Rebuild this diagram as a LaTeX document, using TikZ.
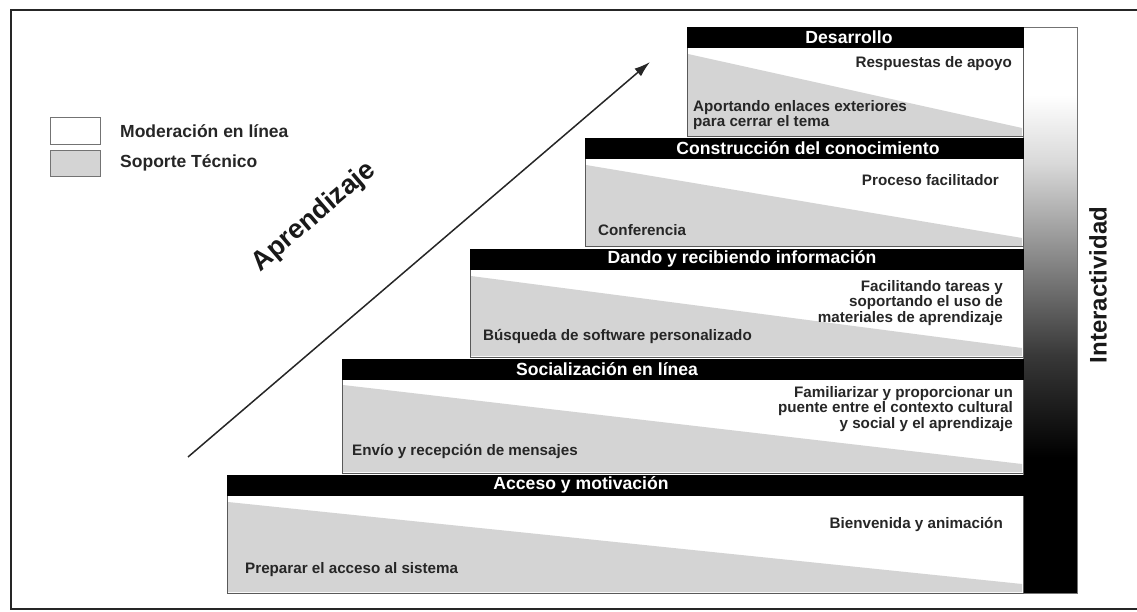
\documentclass[tikz,border=0pt]{standalone}
\usepackage{fontspec}
\setmainfont{Liberation Sans}
\usetikzlibrary{arrows.meta}
\pgfdeclareverticalshading{inter}{100bp}{color(0bp)=(black); color(37bp)=(black); color(46bp)=(black!78); color(55bp)=(black!45); color(63bp)=(black!15); color(69bp)=(white); color(100bp)=(white)}
\tikzset{
  hdr/.style={fill=black, draw=black, minimum height=20, inner sep=0pt, outer sep=0pt, anchor=north west},
  bodybox/.style={fill=white, draw=black!65, line width=1pt, inner sep=0pt, outer sep=0pt, anchor=north west},
  tri/.style={fill=black!17, draw=none},
  htext/.style={text=white, font=\fontsize{17.6}{19}\selectfont\bfseries, inner sep=0pt},
  rtext/.style={text=black!85, font=\fontsize{15.2}{14}\selectfont\bfseries, align=right, anchor=east, inner sep=0pt},
  ltext/.style={text=black!85, font=\fontsize{15.2}{14}\selectfont\bfseries, align=left, anchor=west, inner sep=0pt},
  legbox/.style={draw=black!55, line width=1pt, minimum width=50, minimum height=27, inner sep=0pt, anchor=north west},
  legtext/.style={text=black!85, font=\fontsize{17.5}{19}\selectfont\bfseries, anchor=west, inner sep=0pt},
}
\begin{document}
\begin{tikzpicture}[x=1pt,y=-1pt]
\useasboundingbox (0,0) rectangle (1137,612);
% outer frame
\draw[line width=2pt, black!85] (1140,10) -- (11,10) -- (11,609) -- (1140,609);
% interactivity bar
\node[draw=black!55, line width=0.8pt, shading=inter, minimum width=54, minimum height=566, inner sep=0pt, outer sep=0pt, anchor=north west] (bar) at (1023,27) {};
\node[rotate=90, font=\fontsize{24}{26}\selectfont\bfseries, text=black!90, inner sep=0pt] (inter) at (1098,285) {Interactividad};
% steps: bodies
\node[bodybox, minimum width=796, minimum height=98] (b1) at (227,495) {};
\node[bodybox, minimum width=681, minimum height=95] (b2) at (342,378) {};
\node[bodybox, minimum width=553, minimum height=88] (b3) at (470,269) {};
\node[bodybox, minimum width=438, minimum height=89] (b4) at (585,158) {};
\node[bodybox, minimum width=336, minimum height=90] (b5) at (687,47) {};
\foreach \b in {b1,b2,b3,b4,b5}{
  \fill[tri] ([shift={(1,7)}]\b.north west) -- ([shift={(-1,-9)}]\b.south east) -- ([shift={(-1,-1)}]\b.south east) -- ([shift={(1,-1)}]\b.south west) -- cycle;
  \draw[black!65, line width=1pt] (\b.north west) rectangle (\b.south east);
}
% headers
\node[hdr, minimum width=796] (h1) at (227,475) {};
\node[hdr, minimum width=681] (h2) at (342,359) {};
\node[hdr, minimum width=553] (h3) at (470,249) {};
\node[hdr, minimum width=438] (h4) at (585,138) {};
\node[hdr, minimum width=336] (h5) at (687,27) {};
\node[htext] (t1) at (581,485) {Acceso y motivación};
\node[htext] (t2) at (607,369) {Socialización en línea};
\node[htext] (t3) at (742,259) {Dando y recibiendo información};
\node[htext] (t4) at (808,148) {Construcción del conocimiento};
\node[htext] (t5) at (849,37) {Desarrollo};
% texts
\node[rtext] (r5) at (1012,64) {Respuestas de apoyo};
\node[ltext] (l5) at (693,115) {Aportando enlaces exteriores\\para cerrar el tema};
\node[rtext] (r4) at (999,180) {Proceso facilitador};
\node[ltext] (l4) at (598,230) {Conferencia};
\node[rtext] (r3) at (1003,303) {Facilitando tareas y\\soportando el uso de\\materiales de aprendizaje};
\node[ltext] (l3) at (483,337) {Búsqueda de software personalizado};
\node[rtext] (r2) at (1013,409) {Familiarizar y proporcionar un\\puente entre el contexto cultural\\y social y el aprendizaje};
\node[ltext] (l2) at (352,452) {Envío y recepción de mensajes};
\node[rtext] (r1) at (1003,524) {Bienvenida y animación};
\node[ltext] (l1) at (245,570) {Preparar el acceso al sistema};
% legend
\node[legbox, fill=white] (lg1) at (50,117) {};
\node[legbox, fill=black!17, minimum height=26] (lg2) at (50,150) {};
\node[legtext] (lt1) at (120,131) {Moderación en línea};
\node[legtext] (lt2) at (120,163) {Soporte Técnico};
% arrow
\coordinate (a0) at (188,457);
\coordinate (a1) at (650,62);
\draw[line width=1.5pt, black!85, -{Latex[length=16pt,width=10pt]}] (a0) -- (a1);
\node[rotate=40.5, font=\fontsize{27}{29}\selectfont\bfseries, text=black!90, inner sep=0pt] (apr) at (314,217) {Aprendizaje};
\end{tikzpicture}
\end{document}
